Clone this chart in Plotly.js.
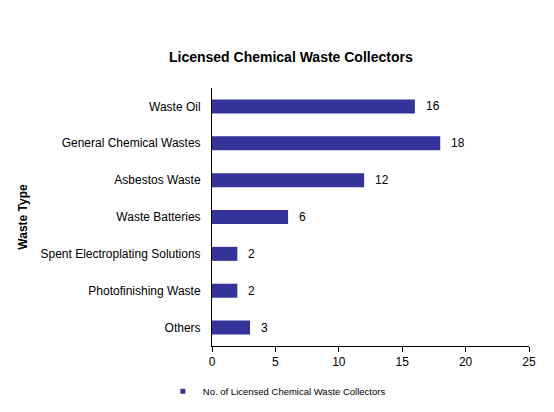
<!DOCTYPE html>
<html><head><meta charset="utf-8">
<script src="https://cdn.plot.ly/plotly-3.0.1.min.js"></script>
<style>html,body{margin:0;padding:0;background:#fff}#chart{width:554px;height:412px}</style>
</head><body><div id="chart"></div>
<script>
const categories = ["Waste Oil","General Chemical Wastes","Asbestos Waste","Waste Batteries","Spent Electroplating Solutions","Photofinishing Waste","Others"];
const values = [16,18,12,6,2,2,3];
const seriesName = "No. of Licensed Chemical Waste Collectors";
const xTicks = [0,5,10,15,20,25];

const font = "Liberation Sans, Arial, sans-serif";
const color = "#333399";
const bars = {
  type: "bar", orientation: "h",
  y: categories, x: values, name: seriesName,
  marker: {color: color},
  width: 0.38, showlegend: false, hoverinfo: "none"
};
const legendProxy = {
  type: "scatter", mode: "markers", x: [null], y: [null], name: seriesName,
  marker: {symbol: "square", size: 5, color: color}, showlegend: true
};
const labels = categories.map((c, i) => ({
  x: values[i], y: c, xref: "x", yref: "y", text: String(values[i]),
  showarrow: false, xanchor: "left", yanchor: "middle", xshift: 9,
  font: {family: font, size: 12, color: "#000"}
}));
const layout = {
  width: 554, height: 412,
  margin: {l: 212, r: 25, t: 88, b: 66, autoexpand: false},
  paper_bgcolor: "#fff", plot_bgcolor: "#fff",
  font: {family: font, color: "#000", size: 12},
  title: {text: "<b>Licensed Chemical Waste Collectors</b>", font: {family: font, size: 14, color: "#000"}, x: 0.525, xanchor: "center", y: 0.862, yanchor: "middle"},
  xaxis: {range: [0, 25], tickvals: xTicks, ticks: "outside", ticklen: 5, tickcolor: "#000",
    showline: true, linecolor: "#000", linewidth: 1, showgrid: false, zeroline: false,
    tickfont: {family: font, size: 12, color: "#000"}},
  yaxis: {autorange: "reversed", showline: true, linecolor: "#000", linewidth: 1, showgrid: false,
    ticks: "", ticklabelstandoff: 8, tickfont: {family: font, size: 12, color: "#000"},
    title: {text: "<b>Waste Type</b>", font: {family: font, size: 12, color: "#000"}, standoff: 10}},
  annotations: labels,
  showlegend: true,
  legend: {orientation: "h", x: -0.155, xanchor: "left", y: -0.175, yanchor: "middle",
    font: {family: font, size: 9.5, color: "#000"}, itemwidth: 30, bgcolor: "rgba(0,0,0,0)"},
  bargap: 0.62
};
Plotly.newPlot("chart", [bars, legendProxy], layout, {displayModeBar: false, staticPlot: true});
</script></body></html>
